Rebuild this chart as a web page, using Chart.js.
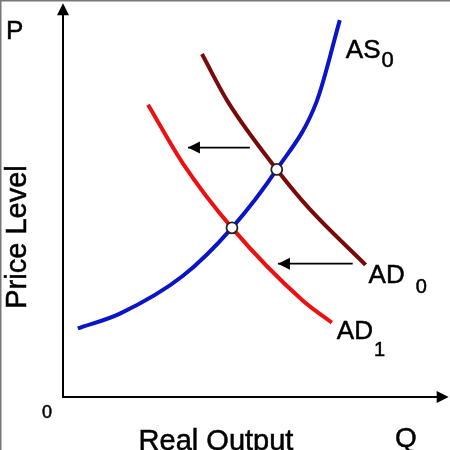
<!DOCTYPE html>
<html>
<head>
<meta charset="utf-8">
<script src="https://cdn.jsdelivr.net/npm/chart.js@4"></script>
<style>
html,body{margin:0;padding:0;background:#fff;}
#wrap{width:450px;height:450px;position:relative;}
canvas{display:block;}
</style>
</head>
<body>
<div id="wrap"><canvas id="c" width="450" height="450"></canvas></div>
<script>
// ---- data (economics units: output 0-100, price 0-100) ----
const asX  = [3.9, 15.0, 31.6, 44.5, 56.3, 66.8, 72.9];
const asY  = [17.6, 21.4, 31.1, 43.4, 58.4, 75.8, 96.7];
const ad0X = [36.6, 43.4, 56.3, 65.0, 79.7];
const ad0Y = [88.0, 75.8, 58.4, 48.2, 33.9];
const ad1X = [22.4, 31.6, 44.5, 63.2, 70.8];
const ad1Y = [75.0, 59.9, 43.4, 24.7, 19.1];
const eqX  = [44.5, 56.3];
const eqY  = [43.4, 58.4];
const arrowUpperX = [49.2, 32.9];
const arrowUpperY = [64.0, 64.0];
const arrowLowerX = [76.3, 56.6];
const arrowLowerY = [34.2, 34.2];
const curveLabels = ['AS', 'AD', 'AD'];
const curveSubs   = ['0', '0', '1'];
const axisLabels  = {p: 'P', q: 'Q', origin: '0', x: 'Real Output', y: 'Price Level'};

const pts = (xs, ys) => xs.map((x, i) => ({x, y: ys[i]}));
const FONT = '"Liberation Sans", Arial, sans-serif';

const decor = {
  id: 'decor',
  beforeDraw(chart) {
    const ctx = chart.ctx;
    ctx.save();
    ctx.fillStyle = '#fff';
    ctx.fillRect(0, 0, chart.width, chart.height);
    ctx.strokeStyle = '#777';
    ctx.lineWidth = 2;
    ctx.beginPath();
    ctx.moveTo(0.5, 450); ctx.lineTo(0.5, 0.5); ctx.lineTo(450, 0.5);
    ctx.stroke();
    ctx.restore();
  },
  afterDatasetsDraw(chart) {
    const ctx = chart.ctx;
    const xs = chart.scales.x, ys = chart.scales.y;
    const a = chart.chartArea;
    ctx.save();
    ctx.fillStyle = '#000';
    ctx.strokeStyle = '#000';
    ctx.lineWidth = 0.5;
    // axis arrowheads
    ctx.beginPath();
    ctx.moveTo(a.left, a.top - 4);
    ctx.lineTo(a.left - 6, a.top + 8);
    ctx.lineTo(a.left + 6, a.top + 8);
    ctx.closePath(); ctx.fill();
    ctx.beginPath();
    ctx.moveTo(a.right + 6, a.bottom);
    ctx.lineTo(a.right - 6, a.bottom - 6);
    ctx.lineTo(a.right - 6, a.bottom + 6);
    ctx.closePath(); ctx.fill();
    // shift arrowheads
    [[arrowUpperX, arrowUpperY], [arrowLowerX, arrowLowerY]].forEach(([ax, ay]) => {
      const tx = xs.getPixelForValue(ax[1]), ty = ys.getPixelForValue(ay[1]);
      ctx.beginPath();
      ctx.moveTo(tx, ty);
      ctx.lineTo(tx + 12, ty - 6);
      ctx.lineTo(tx + 12, ty + 6);
      ctx.closePath(); ctx.fill();
    });
    const txt = (s, x, y) => { ctx.fillText(s, x, y); ctx.strokeText(s, x, y); };
    // curve labels
    const lab = (t, sub, px, py, size, subSize, dx, dy) => {
      ctx.font = size + 'px ' + FONT;
      ctx.textBaseline = 'alphabetic';
      ctx.textAlign = 'left';
      txt(t, px, py);
      const w = ctx.measureText(t).width;
      ctx.font = subSize + 'px ' + FONT;
      txt(sub, px + w + dx, py + dy);
    };
    const asEnd = {x: xs.getPixelForValue(asX[asX.length - 1]), y: ys.getPixelForValue(asY[asY.length - 1])};
    const ad0End = {x: xs.getPixelForValue(ad0X[ad0X.length - 1]), y: ys.getPixelForValue(ad0Y[ad0Y.length - 1])};
    const ad1End = {x: xs.getPixelForValue(ad1X[ad1X.length - 1]), y: ys.getPixelForValue(ad1Y[ad1Y.length - 1])};
    lab(curveLabels[0], curveSubs[0], asEnd.x + 6, asEnd.y + 38, 26, 22, 1, 9);
    lab(curveLabels[1], curveSubs[1], ad0End.x + 3, ad0End.y + 18, 26, 20, 11, 10);
    lab(curveLabels[2], curveSubs[2], ad1End.x + 5, ad1End.y + 16, 26, 20, 1, 17);
    // axis labels
    ctx.font = '26px ' + FONT;
    txt(axisLabels.p, 6, 39);
    ctx.font = '28px ' + FONT;
    txt(axisLabels.q, 395, 447);
    ctx.font = '29px ' + FONT;
    ctx.textAlign = 'center';
    txt(axisLabels.x, 216, 450);
    ctx.font = '18px ' + FONT;
    txt(axisLabels.origin, 47, 418);
    ctx.save();
    ctx.translate(26, 237);
    ctx.rotate(-Math.PI / 2);
    ctx.font = '29px ' + FONT;
    ctx.textAlign = 'center';
    txt(axisLabels.y, 0, 0);
    ctx.restore();
    ctx.restore();
  }
};

const lineDs = (data, color, width) => ({
  data, showLine: true, borderColor: color, borderWidth: width,
  pointRadius: 0, pointHoverRadius: 0, fill: false,
  cubicInterpolationMode: 'monotone', borderCapStyle: 'butt'
});

new Chart(document.getElementById('c'), {
  type: 'scatter',
  data: {
    datasets: [
      {data: pts(eqX, eqY), pointRadius: 5.5, pointBackgroundColor: '#fff',
       pointBorderColor: '#222', pointBorderWidth: 1.8, showLine: false},
      lineDs(pts(asX, asY), '#0a14c8', 4),
      lineDs(pts(ad1X, ad1Y), '#ee1010', 4),
      lineDs(pts(ad0X, ad0Y), '#7a0a0a', 4),
      lineDs(pts(arrowUpperX, arrowUpperY), '#000', 1.8),
      lineDs(pts(arrowLowerX, arrowLowerY), '#000', 1.8)
    ]
  },
  options: {
    responsive: false,
    animation: false,
    devicePixelRatio: 1,
    layout: {padding: {left: 63, right: 7, top: 5, bottom: 53}},
    plugins: {legend: {display: false}, tooltip: {enabled: false}},
    events: [],
    scales: {
      x: {
        type: 'linear', min: 0, max: 100,
        ticks: {display: false}, grid: {display: false, drawTicks: false},
        border: {display: true, color: '#000', width: 2},
        afterFit(s) { s.height = 0; }
      },
      y: {
        type: 'linear', min: 0, max: 100,
        ticks: {display: false}, grid: {display: false, drawTicks: false},
        border: {display: true, color: '#000', width: 2},
        afterFit(s) { s.width = 0; }
      }
    }
  },
  plugins: [decor]
});
</script>
</body>
</html>
